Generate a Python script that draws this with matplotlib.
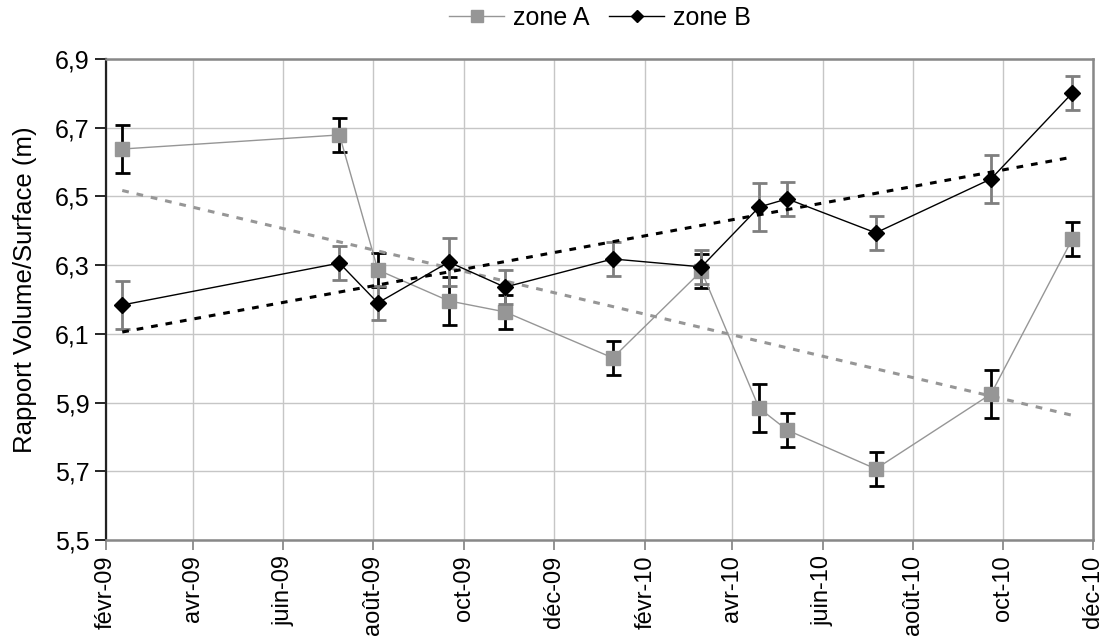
import matplotlib
matplotlib.use("Agg")
import matplotlib.pyplot as plt
import matplotlib.dates as mdates
import numpy as np
import pandas as pd

plt.rcParams['font.family'] = ['Liberation Sans', 'DejaVu Sans']

# ---- data ----
dates = ["2009-02-12", "2009-07-09", "2009-08-04", "2009-09-21", "2009-10-29",
         "2010-01-10", "2010-03-11", "2010-04-19", "2010-05-08", "2010-07-07",
         "2010-09-23", "2010-11-17"]
zone_a = [6.638, 6.679, 6.286, 6.196, 6.164, 6.030, 6.283, 5.884, 5.820, 5.707, 5.925, 6.376]
zone_a_err = [0.07, 0.05, 0.05, 0.07, 0.05, 0.05, 0.05, 0.07, 0.05, 0.05, 0.07, 0.05]
zone_b = [6.184, 6.306, 6.190, 6.309, 6.236, 6.318, 6.295, 6.469, 6.493, 6.394, 6.551, 6.801]
zone_b_err = [0.07, 0.05, 0.05, 0.07, 0.05, 0.05, 0.05, 0.07, 0.05, 0.05, 0.07, 0.05]
series_names = ["zone A", "zone B"]

x_ticks = ["2009-02-01", "2009-04-01", "2009-06-01", "2009-08-01", "2009-10-01", "2009-12-01",
           "2010-02-01", "2010-04-01", "2010-06-01", "2010-08-01", "2010-10-01", "2010-12-01"]
x_tick_labels = ["févr-09", "avr-09", "juin-09", "août-09", "oct-09", "déc-09",
                 "févr-10", "avr-10", "juin-10", "août-10", "oct-10", "déc-10"]
y_ticks = [5.5, 5.7, 5.9, 6.1, 6.3, 6.5, 6.7, 6.9]
y_tick_labels = ["5,5", "5,7", "5,9", "6,1", "6,3", "6,5", "6,7", "6,9"]
y_label = "Rapport Volume/Surface (m)"

# ---- figure ----
fig = plt.figure(figsize=(11.07, 6.41), dpi=100)
ax = fig.add_axes([106/1107, 1 - 540/641, (1093 - 106)/1107, (540 - 59)/641])

xd = mdates.date2num(pd.to_datetime(dates))
xt = mdates.date2num(pd.to_datetime(x_ticks))

gray_a = '#969696'
gray_eb = '#7f7f7f'

# grid
ax.set_axisbelow(True)
ax.grid(True, color='#c6c6c6', lw=1.0)

# zone A
ax.errorbar(xd, zone_a, yerr=zone_a_err, fmt='none', ecolor='black', elinewidth=2,
            capsize=5.4, capthick=2, zorder=3)
lA, = ax.plot(xd, zone_a, color=gray_a, lw=1, marker='s', ms=10.5,
              mfc=gray_a, mec=gray_a, zorder=4, label=series_names[0])

# zone B
ax.errorbar(xd, zone_b, yerr=zone_b_err, fmt='none', ecolor=gray_eb, elinewidth=2,
            capsize=5.4, capthick=2, zorder=5)
lB, = ax.plot(xd, zone_b, color='black', lw=1, marker='D', ms=7.7,
              mfc='black', mec='black', zorder=7, label=series_names[1])

# linear trend lines
for yv, col, z in [(zone_a, gray_a, 6), (zone_b, 'black', 6)]:
    p = np.polyfit(xd, yv, 1)
    xx = np.array([xd[0], xd[-1]])
    ax.plot(xx, np.polyval(p, xx), color=col, lw=2.2, dashes=(2.2, 2.6), zorder=z)

ax.set_xlim(mdates.date2num(pd.Timestamp("2009-02-01")), mdates.date2num(pd.Timestamp("2010-12-01")))
ax.set_ylim(5.5, 6.9)

ax.set_xticks(xt)
ax.set_xticklabels(x_tick_labels, rotation=90, fontsize=17)
ax.set_yticks(y_ticks)
ax.set_yticklabels(y_tick_labels, fontsize=18)
ax.tick_params(axis='y', direction='out', length=8, width=1.2, color='black', pad=4)
ax.tick_params(axis='x', direction='out', length=7, width=1.2, color='#808080', pad=4)
ax.set_ylabel(y_label, fontsize=18.5)
ax.yaxis.set_label_coords((37 - 106) / 987, (540 - 290) / 481)

for s in ['top', 'right', 'bottom']:
    ax.spines[s].set_color('#888888')
    ax.spines[s].set_linewidth(1.8)
ax.spines['left'].set_color('#222222')
ax.spines['left'].set_linewidth(1.6)

fig.legend(handles=[lA, lB], loc='center', bbox_to_anchor=(600/1107, 1 - 18/641), ncol=2,
           frameon=False, fontsize=18, handlelength=2.2, columnspacing=0.8, handletextpad=0.35,
           markerscale=0.8)

fig.savefig("out.png", dpi=100)
